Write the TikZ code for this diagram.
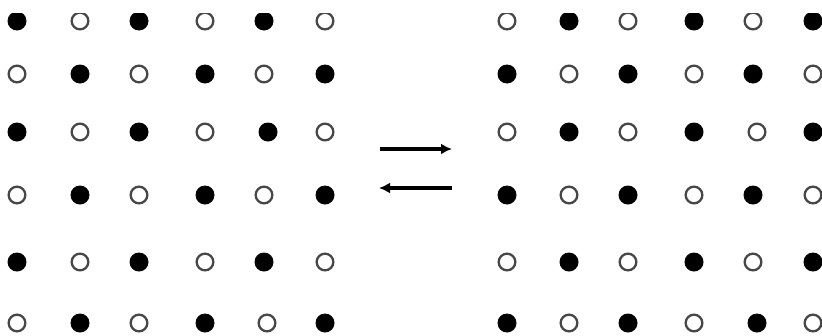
\documentclass[tikz,border=0pt]{standalone}
\usetikzlibrary{arrows.meta}
\begin{document}
\begin{tikzpicture}[x=1pt,y=-1pt,
  blk/.style={circle,fill=black,inner sep=0pt,minimum size=19pt},
  wht/.style={circle,draw=black!72,line width=2.3pt,fill=white,inner sep=0pt,minimum size=16.7pt},
  eqarrow/.style={line width=3.2pt,-{Latex[length=11pt,width=11pt]}}]
\useasboundingbox (0,0) rectangle (822,335);
\begin{scope}
\clip (0,13) rectangle (822,335);
% left lattice: black where row+col even
\foreach \yy/\cols [count=\r] in {21/{17,80,139,205,264,325},74/{17,80,139,205,264,325},132/{17,80,139,205,268,325},195/{17,80,139,205,264,325},262/{17,80,139,205,264,325},323/{17,80,139,205,267,325}}{
  \foreach \xx [count=\c] in \cols {
    \pgfmathtruncatemacro\myparity{mod(\r+\c,2)}
    \ifnum\myparity=0
      \node[blk] (L\r-\c) at (\xx,\yy) {};
    \else
      \node[wht] (L\r-\c) at (\xx,\yy) {};
    \fi
  }
}
% right lattice: white where row+col even
\foreach \yy/\cols [count=\r] in {21/{507,569,628,694,753,813},74/{507,569,628,694,753,813},132/{507,569,628,694,757,813},195/{507,569,628,694,753,813},262/{507,569,628,694,753,813},323/{507,569,628,694,757,813}}{
  \foreach \xx [count=\c] in \cols {
    \pgfmathtruncatemacro\myparity{mod(\r+\c,2)}
    \ifnum\myparity=0
      \node[wht] (R\r-\c) at (\xx,\yy) {};
    \else
      \node[blk] (R\r-\c) at (\xx,\yy) {};
    \fi
  }
}
\end{scope}
\coordinate (a1) at (380,149);
\coordinate (a2) at (452,149);
\coordinate (b1) at (452,188);
\coordinate (b2) at (379,188);
\draw[eqarrow] (a1) -- (a2);
\draw[eqarrow] (b1) -- (b2);
\end{tikzpicture}
\end{document}
